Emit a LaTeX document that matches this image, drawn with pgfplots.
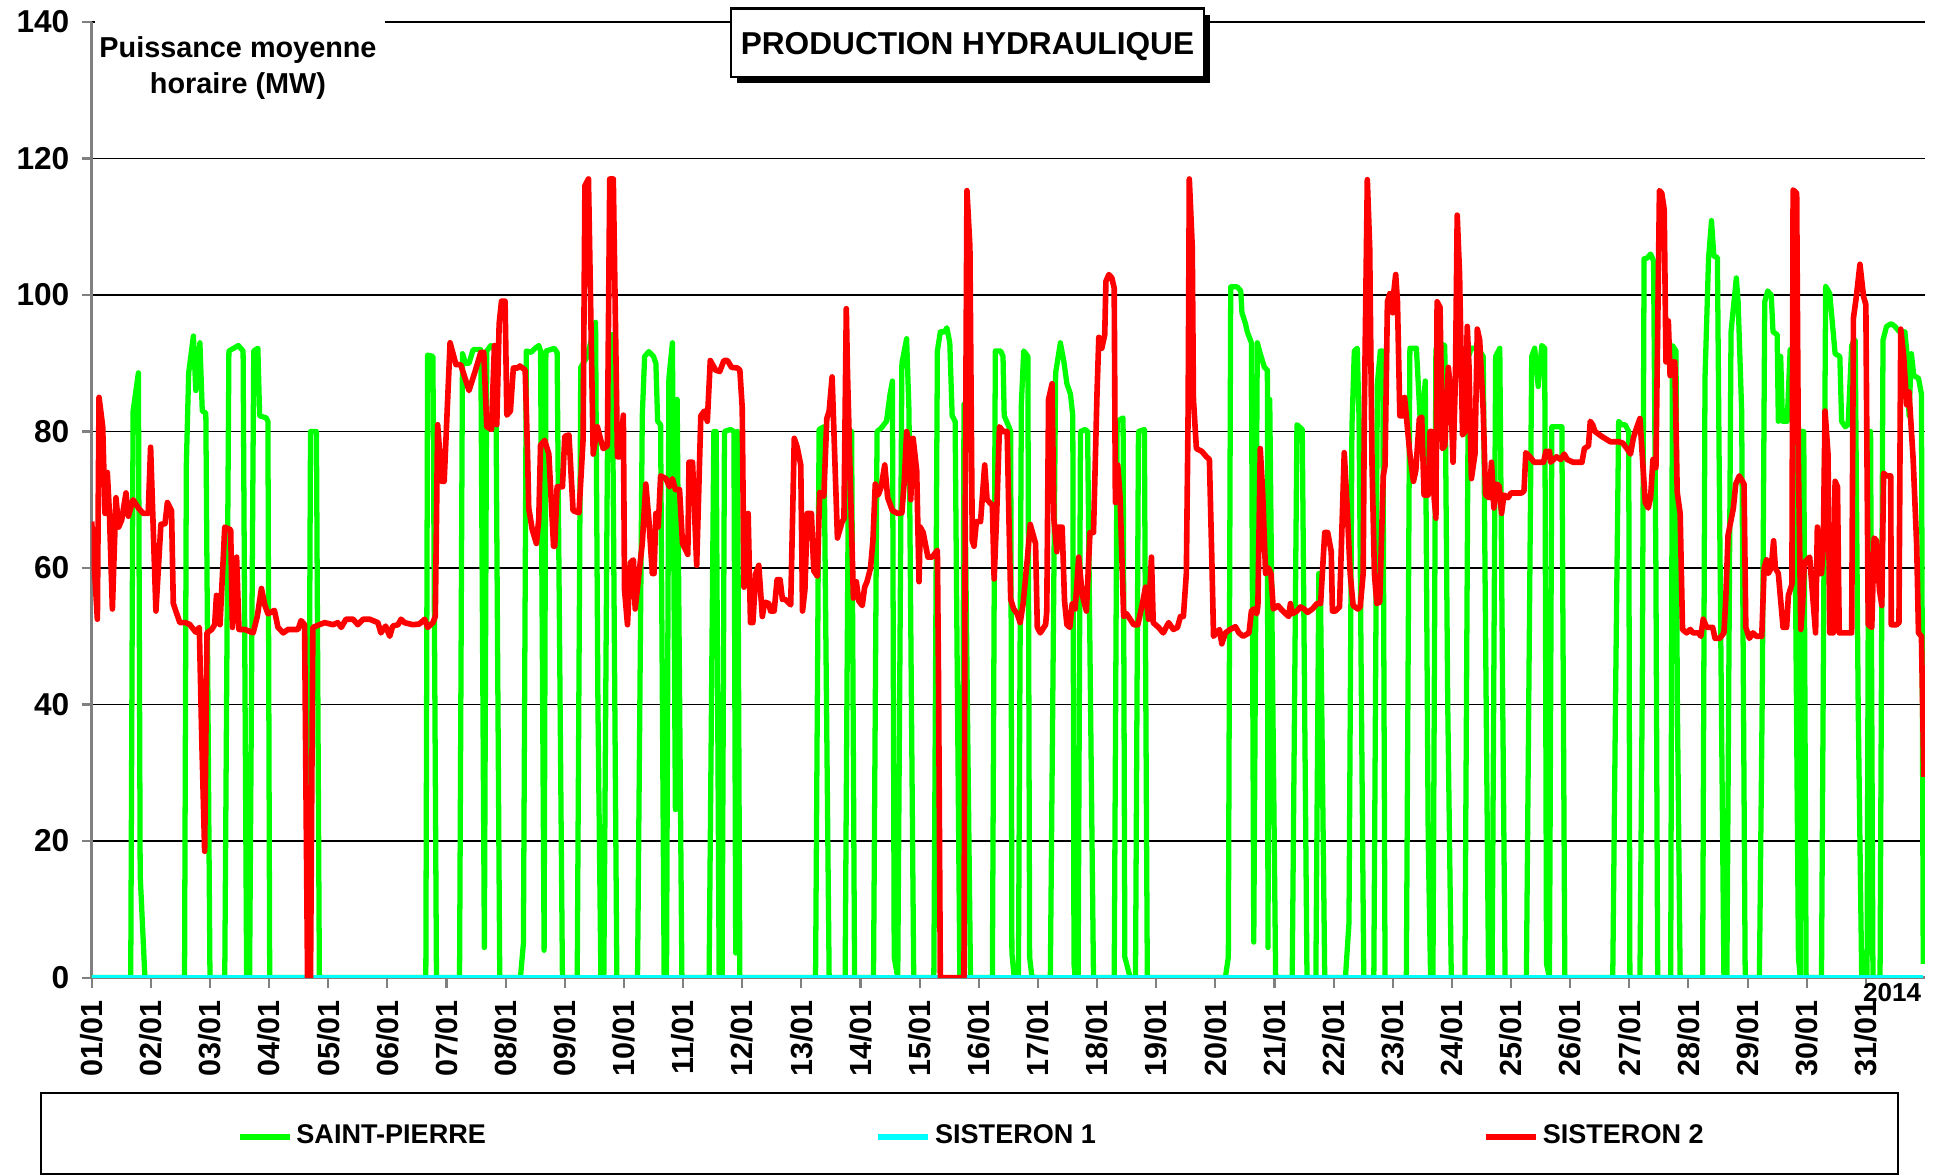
\documentclass[border=0pt]{standalone}
\usepackage{fontspec}
\setmainfont{Liberation Sans}
\usepackage{pgfplots}
\pgfplotsset{compat=1.18}

\definecolor{spgreen}{RGB}{0,255,0}
\definecolor{scyan}{RGB}{0,255,255}
\definecolor{sred}{RGB}{255,0,0}
\definecolor{axgray}{RGB}{128,128,128}

\newcommand\tickfont{\fontsize{9}{10}\selectfont\bfseries}
\newcommand\xtickfont{\fontsize{8.7}{10}\selectfont\bfseries}
\newcommand\legfont{\fontsize{7.7}{9}\selectfont\bfseries}
\newcommand\titlefont{\fontsize{9}{10}\selectfont\bfseries}
\newcommand\ylabfont{\fontsize{8.2}{10.5}\selectfont\bfseries}

\begin{document}
\begin{tikzpicture}
\useasboundingbox (-9.17mm,-19.84mm) rectangle (184.13mm,97.76mm);
\begin{axis}[
    at={(0,0)}, anchor=south west,
    scale only axis, width=183.33mm, height=95.56mm,
    xmin=0, xmax=31, ymin=0, ymax=140,
    xtick={0,...,30},
    xticklabels={01/01,02/01,03/01,04/01,05/01,06/01,07/01,08/01,09/01,10/01,
      11/01,12/01,13/01,14/01,15/01,16/01,17/01,18/01,19/01,20/01,
      21/01,22/01,23/01,24/01,25/01,26/01,27/01,28/01,29/01,30/01,31/01},
    ytick={0,20,...,140},
    axis lines*=left,
    axis line style={axgray, line width=0.8pt},
    tick align=outside, major tick length=1mm,
    tick style={axgray, line width=0.6pt},
    ymajorgrids, grid style={black, line width=0.4pt},
    /pgf/number format/assume math mode=true,
    yticklabel style={font=\tickfont},
    xticklabel style={rotate=90, anchor=east, font=\xtickfont},
    legend columns=3,
    legend style={draw=none, fill=none, at={(0.073,-0.1665)}, anchor=west,
      font=\legfont, /tikz/every even column/.append style={column sep=2mm}},
    legend image code/.code={\draw[#1, line width=1.6pt] (0mm,0mm) -- (5mm,0mm);},
]
% SAINT-PIERRE
\addplot[spgreen, line width=1.5pt, line join=round] coordinates {
(0,0) (0.66,0) (0.7,83) (0.79,88.6) (0.82,15) (0.9,0)
(1.57,0) (1.6,75) (1.64,88.6) (1.72,94) (1.76,86) (1.83,93) (1.87,83) (1.93,82.7) (2.0,0)
(2.25,0) (2.32,91.8) (2.4,92.2) (2.48,92.6) (2.56,91.8) (2.62,0) (2.67,0) (2.74,91.8) (2.81,92.2) (2.84,82.3) (2.95,82) (2.98,81.5) (3.01,0)
(3.66,0) (3.7,80) (3.8,80) (3.85,0)
(5.65,0) (5.68,91.2) (5.77,91) (5.83,0)
(6.22,0) (6.27,91.4) (6.32,90) (6.38,90) (6.45,92) (6.58,92) (6.64,4.4) (6.68,91.8) (6.75,92.6) (6.83,92) (6.9,0)
(7.25,0) (7.3,5) (7.35,91.8) (7.43,91.6) (7.5,92.2) (7.56,92.6) (7.59,91.8) (7.65,4) (7.68,91.8) (7.76,92) (7.82,92.2) (7.87,91.6) (7.96,0)
(8.21,0) (8.27,89.4) (8.38,91) (8.52,96) (8.56,40) (8.61,0) (8.66,0) (8.72,76) (8.8,94.2) (8.88,0)
(9.23,0) (9.31,82.3) (9.35,91) (9.42,91.7) (9.5,91) (9.54,90) (9.57,81.5) (9.62,81) (9.68,0)
(9.72,0) (9.76,87.8) (9.82,93) (9.87,24.6) (9.9,84.7) (9.98,0)
(10.44,0) (10.52,80) (10.56,80) (10.61,0) (10.66,0) (10.7,80) (10.8,80.3) (10.86,80) (10.89,3.6) (10.92,80) (10.96,0)
(12.24,0) (12.3,80.3) (12.38,80.7) (12.47,0) (12.74,0) (12.8,80) (12.85,80) (12.9,0)
(13.22,0) (13.28,80) (13.35,80.5) (13.44,81.5) (13.5,85.5) (13.54,87.4) (13.57,3) (13.63,0) (13.7,90) (13.78,93.6) (13.82,83) (13.9,0)
(14.24,0) (14.3,91.8) (14.35,94.6) (14.42,94.6) (14.46,95.2) (14.51,93) (14.55,82.3) (14.6,81.5) (14.68,0) (14.72,0) (14.75,84) (14.86,0)
(15.23,0) (15.28,91.8) (15.37,91.8) (15.41,91) (15.43,82.3) (15.51,80.7) (15.54,80) (15.56,3.6) (15.6,0) (15.67,0) (15.72,84) (15.76,91.8) (15.83,91) (15.86,3) (15.9,0)
(16.21,0) (16.3,88.6) (16.38,93) (16.44,90.2) (16.49,87) (16.55,85.5) (16.59,82.3) (16.61,2) (16.63,0) (16.68,0) (16.72,80) (16.8,80.3) (16.84,80) (16.94,0)
(17.29,0) (17.34,81.5) (17.44,82) (17.47,3) (17.56,0)
(17.65,0) (17.7,80) (17.8,80.3) (17.85,0)
(19.17,0) (19.22,3) (19.26,101.2) (19.37,101.2) (19.43,100.6) (19.45,97.4) (19.51,95.8) (19.54,94.6) (19.61,93) (19.65,5.2) (19.71,93) (19.76,91.4) (19.83,89.4) (19.88,89) (19.89,4.4) (19.92,84.7) (20.02,0)
(20.3,0) (20.38,81) (20.47,80.3) (20.55,0)
(20.7,0) (20.75,59.2) (20.78,55) (20.85,0)
(21.2,0) (21.26,8) (21.31,80.7) (21.35,91.8) (21.4,92.2) (21.43,81.9) (21.51,0)
(21.68,0) (21.74,87) (21.79,91.8) (21.83,91.8) (21.87,0)
(22.23,0) (22.29,92.2) (22.4,92.2) (22.46,82.3) (22.5,81.5) (22.55,87.4) (22.6,20) (22.64,0) (22.68,0) (22.73,92) (22.77,93) (22.88,92.6) (22.93,40) (22.99,0)
(23.22,0) (23.28,91) (23.33,92.2) (23.44,92.2) (23.53,91) (23.56,60) (23.62,0) (23.68,0) (23.74,91) (23.81,92.2) (23.86,40) (23.9,0)
(24.26,0) (24.35,91) (24.4,92.2) (24.46,86.6) (24.52,92.6) (24.57,92.2) (24.6,2) (24.65,0) (24.69,80.7) (24.8,80.7) (24.86,80.7) (24.91,0)
(25.72,0) (25.77,43) (25.82,81.5) (25.87,81) (25.93,81) (25.99,80) (26.01,0)
(26.18,0) (26.22,43) (26.25,105.3) (26.3,105.4) (26.36,106) (26.41,105) (26.45,60) (26.48,0)
(26.7,0) (26.73,92.6) (26.79,91.8) (26.81,43) (26.86,0)
(27.24,0) (27.28,87.8) (27.34,105.3) (27.39,110.9) (27.43,105.7) (27.49,105.5) (27.52,75) (27.6,0)
(27.65,0) (27.72,94.6) (27.81,102.5) (27.84,99) (27.9,83) (27.96,0)
(28.2,0) (28.25,43) (28.29,99) (28.34,100.6) (28.4,100) (28.43,94.6) (28.5,94.2) (28.52,81.5) (28.56,91) (28.59,81.5) (28.67,81.5) (28.72,92) (28.78,92) (28.86,3) (28.89,0) (28.91,80) (28.95,80) (28.99,0)
(29.25,0) (29.32,101.3) (29.39,100.2) (29.48,91.4) (29.56,91) (29.59,81.5) (29.65,80.7) (29.7,81) (29.76,92.6) (29.82,93.4) (29.87,40) (29.93,0) (30.02,0) (30.05,80) (30.08,80) (30.12,0)
(30.24,0) (30.29,93.4) (30.35,95.4) (30.43,95.8) (30.49,95.4) (30.57,94.6) (30.66,94.6) (30.7,91) (30.73,82.3) (30.77,91.4) (30.81,88.2) (30.89,87.8) (30.94,85.5) (30.97,2)
};
\addlegendentry{\makebox[54.9mm][l]{\hspace{-0.3mm}SAINT-PIERRE}}
% SISTERON 1
\addplot[scyan, line width=1.4pt] coordinates {(0,0) (30.97,0)};
\addlegendentry{\makebox[51.8mm][l]{\hspace{-0.3mm}SISTERON 1}}
% SISTERON 2
\addplot[sred, line width=1.6pt, line join=round] coordinates {
(0,66.8) (0.096,52.5) (0.124,85) (0.186,80.7) (0.225,68) (0.264,74) (0.3,68) (0.35,54) (0.41,70.3) (0.456,66) (0.506,67) (0.58,71) (0.62,67.6) (0.7,70) (0.79,68.8) (0.87,68) (0.956,68) (0.996,77.7) (1.086,53.7) (1.17,66.4) (1.24,66.5) (1.28,69.6) (1.35,68.4) (1.38,54.8) (1.49,52) (1.59,52) (1.66,51.7) (1.76,50.6) (1.82,51.3) (1.86,35.4) (1.91,18.5) (1.95,50.5) (2.03,51) (2.08,51.7) (2.11,56) (2.17,51.7) (2.25,66) (2.35,65.6) (2.38,51.3) (2.45,61.6) (2.49,51) (2.59,51) (2.73,50.5) (2.8,52.9) (2.87,57) (2.93,54.5) (2.98,53.3) (3.09,53.8) (3.15,51.3) (3.24,50.5) (3.32,51) (3.49,51) (3.54,52.3) (3.6,51.7) (3.65,0) (3.7,0) (3.74,51.3) (3.85,51.7) (3.94,52) (4.08,51.7) (4.16,52) (4.22,51.3) (4.3,52.5) (4.42,52.5) (4.5,51.7) (4.59,52.5) (4.7,52.5) (4.84,52) (4.89,50.5) (4.97,51.5) (5.04,50) (5.09,51.5) (5.18,51.7) (5.23,52.5) (5.29,52) (5.43,51.7) (5.54,51.8) (5.63,52.5) (5.68,51.3) (5.77,52) (5.81,52.9) (5.85,81) (5.92,72.7) (5.96,72.7) (6.06,93) (6.16,89.8)
(6.24,89.8) (6.38,86) (6.49,89) (6.58,91.6) (6.63,91.6) (6.68,80.7) (6.76,80.3) (6.81,92.6) (6.85,81) (6.89,95.8) (6.93,99.1) (6.99,99.1) (7.02,82.4) (7.08,83) (7.13,89.3) (7.2,89.3) (7.24,89.6) (7.33,89) (7.37,76.7) (7.39,68.8) (7.45,65.6) (7.52,63.6) (7.56,67.2) (7.59,78) (7.66,78.7) (7.73,76.7) (7.81,63.2) (7.83,63.2) (7.87,71.9) (7.96,71.9) (8.0,79.3) (8.07,79.5) (8.14,68.4) (8.24,68.1) (8.31,79) (8.34,116) (8.4,117) (8.48,76.7) (8.55,80.7) (8.61,78.7) (8.65,77.5) (8.72,77.9) (8.76,117) (8.82,117) (8.89,76.3) (8.93,76.3) (8.99,82.4) (9.01,56.8) (9.06,51.7) (9.11,60.8) (9.16,61.2) (9.19,54) (9.31,63.6) (9.37,72.3) (9.42,67.2) (9.48,59.2) (9.51,59.2) (9.54,68) (9.58,66) (9.62,73.5) (9.71,73.1) (9.77,71.9) (9.82,73.1) (9.87,71.5) (9.94,71.5) (9.99,63.6) (10.08,62) (10.1,75.5) (10.16,75.5) (10.23,60.4) (10.3,82.3) (10.36,83) (10.41,81.5) (10.46,90.4) (10.55,89) (10.62,88.8) (10.69,90.4) (10.75,90.4) (10.82,89.4) (10.92,89.3) (10.96,89) (11.0,83.5) (11.03,57.2) (11.1,68) (11.14,52) (11.18,52) (11.23,59.2) (11.28,60.4) (11.34,52.9) (11.38,55) (11.45,54.8) (11.48,53.7) (11.54,53.7) (11.59,58.3) (11.64,58.3) (11.68,55.4) (11.73,55.4) (11.82,54.6) (11.88,79) (11.93,77.7) (11.99,75.1) (12.02,53.7) (12.06,56.8) (12.1,68) (12.17,68) (12.21,59.6) (12.27,58.8) (12.31,71.1) (12.38,70.5) (12.43,81.9) (12.47,83) (12.52,88) (12.61,64.4) (12.69,66.8)
(12.72,67.2) (12.76,98) (12.78,88.6) (12.88,55.6) (12.93,58) (12.97,55.2) (13.03,54.5) (13.07,57.2) (13.11,58) (13.17,60) (13.21,64) (13.25,72.3) (13.3,70.7) (13.35,71.9) (13.41,75.1) (13.46,70.3) (13.54,68.4) (13.63,68) (13.7,68.1) (13.74,72.7) (13.78,80) (13.82,78.3) (13.85,70) (13.89,79) (13.95,74.3) (13.99,58) (14.01,66) (14.06,65.2) (14.14,61.6) (14.21,61.6) (14.3,62.6) (14.32,43) (14.35,0) (14.75,0) (14.77,67) (14.8,115.3) (14.85,107) (14.89,64) (14.92,63.2) (14.96,66.8) (15.03,66.8) (15.1,75.1) (15.14,70) (15.23,69.2) (15.26,58.4) (15.3,67.2) (15.35,80.7) (15.41,80) (15.48,80) (15.51,67.2) (15.54,55.4) (15.59,54) (15.65,53.3) (15.7,52) (15.75,54.8) (15.82,61.2) (15.87,66.4) (15.96,63.6) (15.99,51.3) (16.04,50.5) (16.13,51.7) (16.15,53.7) (16.18,84.7) (16.24,87) (16.27,67.2) (16.32,62.4) (16.34,66) (16.41,66) (16.45,55.2) (16.49,51.7) (16.54,51.3) (16.58,54.8) (16.63,54) (16.69,61.6) (16.75,56) (16.82,53.7) (16.88,65.2) (16.94,65.2) (17.0,85.8) (17.03,93.8) (17.08,92.2) (17.13,94.2) (17.15,102) (17.2,103) (17.25,102.5) (17.29,101) (17.31,69.6) (17.35,75.1) (17.39,70.3) (17.45,52.9) (17.5,53.3) (17.56,52.5) (17.62,51.7) (17.69,51.7) (17.76,54.5) (17.82,57.2) (17.87,52.5) (17.92,61.6) (17.95,52) (18.04,51.3) (18.12,50.5) (18.21,52) (18.29,51) (18.36,51.3) (18.41,52.9) (18.46,52.9) (18.51,59.2) (18.54,83) (18.56,117) (18.61,107) (18.63,84.7) (18.68,77.5) (18.77,77.1) (18.85,76.3) (18.9,75.9) (18.94,61.6) (18.97,50) (19.07,51) (19.11,48.9) (19.17,50.5) (19.25,51) (19.34,51.4) (19.4,50.5) (19.47,50) (19.57,50.5) (19.61,53.7) (19.65,54) (19.7,53.3) (19.72,54.5) (19.76,77.5) (19.8,71.1) (19.85,59.2) (19.9,60) (19.94,59.2) (19.98,54)
(20.06,54.5) (20.13,53.8) (20.19,53.3) (20.24,52.9) (20.27,54.8) (20.3,53.3) (20.38,53.7) (20.44,54.3) (20.5,54) (20.56,53.5) (20.64,54) (20.72,54.8) (20.78,54.8) (20.85,65.2) (20.9,65.2) (20.96,62.4) (20.98,53.7) (21.03,53.7) (21.1,54.3) (21.18,76.9) (21.23,68.8) (21.28,59.2) (21.33,54.5) (21.41,54) (21.45,54.3) (21.5,59.2) (21.52,83) (21.57,116.9) (21.61,107) (21.65,75.1) (21.69,59.2) (21.73,54.8) (21.78,55) (21.84,73.5) (21.87,75) (21.91,99) (21.95,100.2) (22.0,97.4) (22.02,100.6) (22.05,103) (22.08,99) (22.12,82.3) (22.18,82.3) (22.2,85) (22.29,76.7) (22.35,72.7) (22.39,74.3) (22.45,81.9) (22.49,82.1) (22.53,70.7) (22.6,70.7) (22.63,80) (22.66,80) (22.7,70.3) (22.73,67.3) (22.75,99) (22.8,98.2) (22.84,77.5) (22.88,77.9) (22.94,89.4) (22.98,85.8) (23.02,75.5) (23.06,87.8) (23.09,111.7) (23.13,103) (23.18,79.5) (23.22,80) (23.26,95.4) (23.29,89.4) (23.33,73.1) (23.39,76.7) (23.43,95) (23.47,93.4) (23.53,83) (23.57,70.7) (23.63,70.3) (23.67,75.5) (23.71,68.8) (23.76,72.3) (23.8,72) (23.84,68) (23.88,70.7) (23.95,70.3) (24.0,71) (24.09,71) (24.18,71) (24.22,71.3) (24.25,76.9) (24.32,76.3) (24.39,75.5) (24.55,75.5) (24.59,77.1) (24.65,77.1) (24.67,75.5) (24.77,76.3) (24.84,75.9) (24.9,76.7) (24.95,75.9) (25.05,75.5) (25.2,75.5) (25.24,77.5) (25.31,77.9) (25.34,81.5) (25.38,81) (25.42,80) (25.53,79.3) (25.68,78.5) (25.82,78.5) (25.89,78.3) (25.96,77.5) (26.02,76.7) (26.07,79.1) (26.13,80.7) (26.18,81.9) (26.23,75.1) (26.27,69.6) (26.32,68.8) (26.36,70.3) (26.4,75.9) (26.45,74.7) (26.51,115.3) (26.55,114.9) (26.59,112.5) (26.62,90.2) (26.66,96.2) (26.69,88.2) (26.72,90.2) (26.77,90.2) (26.81,71.1) (26.86,68) (26.9,51) (26.97,50.5) (27.03,51) (27.08,50.5) (27.17,50.5) (27.21,50) (27.25,52.5) (27.31,51.3) (27.41,51.3) (27.45,49.7) (27.53,49.7) (27.6,50.5) (27.63,55.2) (27.67,64.8) (27.76,68.8) (27.8,72.3) (27.86,73.5) (27.94,72.3) (27.97,51.3) (28.03,49.7) (28.09,50.5) (28.15,50) (28.24,50) (28.28,60) (28.32,61.2) (28.35,59.2) (28.4,60) (28.44,64) (28.47,60) (28.52,59.2) (28.6,51.3) (28.66,51.3) (28.69,56) (28.75,57.6) (28.77,115.4) (28.83,114.9) (28.86,75.1) (28.9,51) (28.93,54.5) (28.96,60.8) (29.05,61.6) (29.1,56) (29.15,50.5) (29.18,66) (29.21,59.2) (29.25,59.2) (29.28,63.2) (29.31,83) (29.36,76.7) (29.39,50.5) (29.45,50.5) (29.48,72.7) (29.52,71.9) (29.55,50.5) (29.76,50.5) (29.79,96.6) (29.84,99.8) (29.9,104.5) (29.96,99.8) (30.0,98.6) (30.04,51.7) (30.1,51.3) (30.14,64.4) (30.18,64) (30.23,56.8) (30.27,54.5) (30.3,73.9) (30.35,73.5) (30.42,73.5) (30.43,51.7) (30.52,51.7) (30.56,52) (30.59,95) (30.64,91) (30.69,83.9) (30.73,85.8) (30.8,75.9) (30.86,63.2) (30.89,50.5) (30.94,50) (30.98,29.4)
};
\addlegendentry{\hspace{-0.3mm}SISTERON 2}
\end{axis}
% legend frame
\draw[black, line width=0.5pt] (-5.07mm,-11.54mm) rectangle (180.63mm,-19.64mm);
% y label box
\fill[white] (0.3mm,87.8mm) rectangle (29.3mm,97.6mm);
\node[font=\ylabfont, align=center] at (14.63mm,90.95mm) {Puissance moyenne\\horaire (MW)};
% title
\fill[black] (64.53mm,89.46mm) rectangle (111.83mm,96.3mm);
\filldraw[fill=white, draw=black, line width=0.8pt] (63.93mm,90.06mm) rectangle (111.23mm,96.9mm);
\node[font=\titlefont] at (87.58mm,93.13mm) {PRODUCTION HYDRAULIQUE};
\node[font=\fontsize{7.4}{8}\selectfont\bfseries, anchor=north east, inner sep=0pt] at (183.0mm,-0.5mm) {2014};
\end{tikzpicture}
\end{document}
